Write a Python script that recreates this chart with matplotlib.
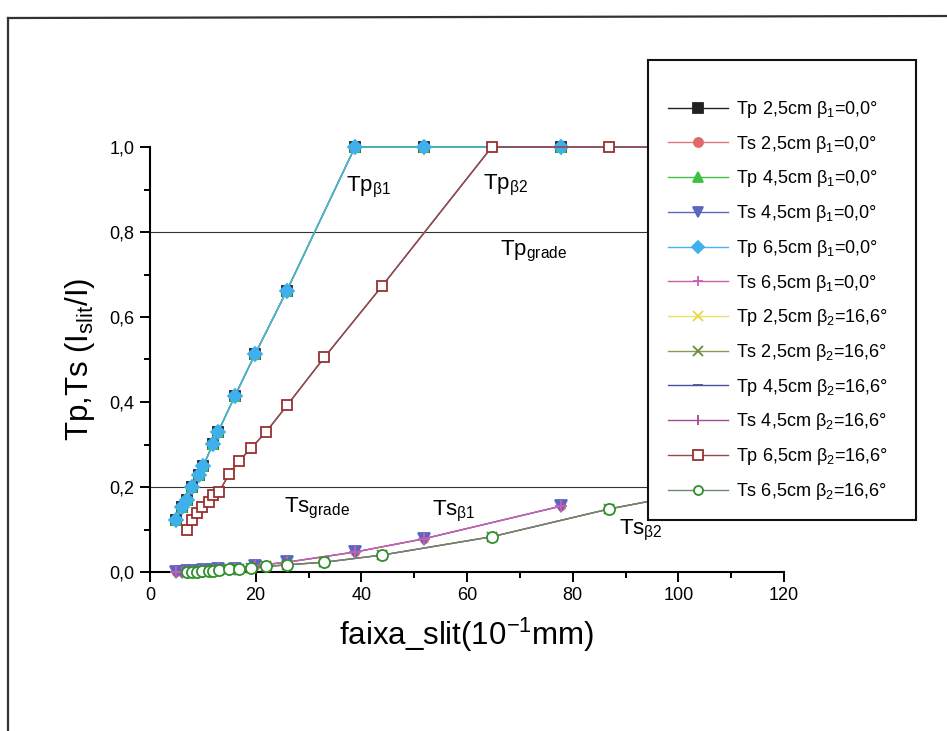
import matplotlib
matplotlib.use("Agg")
import matplotlib.pyplot as plt
from matplotlib.patches import Rectangle
from matplotlib.lines import Line2D
from matplotlib.ticker import MultipleLocator, FuncFormatter

plt.rcParams['font.family'] = ['Liberation Sans', 'DejaVu Sans']
plt.rcParams['mathtext.fontset'] = 'custom'
plt.rcParams['mathtext.rm'] = 'Liberation Sans'
plt.rcParams['mathtext.it'] = 'Liberation Sans'
plt.rcParams['mathtext.bf'] = 'Liberation Sans:bold'

# ---- data -------------------------------------------------------------
# slit widths (10^-1 mm) for the beta1 = 0.0 deg set
x_b1 = [5.0, 6.0, 7.0, 8.0, 9.2, 10.1, 11.9, 12.9, 16.1, 19.9, 25.9, 38.8, 51.8, 77.8]
tp_b1 = [0.122, 0.154, 0.170, 0.200, 0.228, 0.250, 0.301, 0.330, 0.415, 0.513, 0.662, 1.0, 1.0, 1.0]
ts_b1 = [0.0, 0.001, 0.002, 0.002, 0.003, 0.004, 0.005, 0.006, 0.008, 0.015, 0.023, 0.047, 0.078, 0.155]

# slit widths (10^-1 mm) for the beta2 = 16.6 deg set
x_b2 = [7.07, 7.9, 8.84, 9.8, 11.2, 12.0, 13.1, 15.0, 16.9, 19.1, 22.0, 26.0, 33.0, 44.0, 64.7, 86.8, 108.5]
tp_b2 = [0.100, 0.122, 0.138, 0.154, 0.165, 0.181, 0.189, 0.231, 0.262, 0.291, 0.330, 0.393,
         0.505, 0.674, 1.0, 1.0, 1.0]
ts_b2 = [0.0, 0.001, 0.001, 0.002, 0.002, 0.003, 0.004, 0.006, 0.008, 0.010, 0.013, 0.017,
         0.023, 0.040, 0.083, 0.148, 0.200]

grade_levels = [0.8, 0.2]

labels = [
    "Tp 2,5cm β$_1$=0,0°", "Ts 2,5cm β$_1$=0,0°",
    "Tp 4,5cm β$_1$=0,0°", "Ts 4,5cm β$_1$=0,0°",
    "Tp 6,5cm β$_1$=0,0°", "Ts 6,5cm β$_1$=0,0°",
    "Tp 2,5cm β$_2$=16,6°", "Ts 2,5cm β$_2$=16,6°",
    "Tp 4,5cm β$_2$=16,6°", "Ts 4,5cm β$_2$=16,6°",
    "Tp 6,5cm β$_2$=16,6°", "Ts 6,5cm β$_2$=16,6°",
]

# (x, y, line colour, marker, marker face, marker edge, marker size)
series = [
    (x_b1, tp_b1, '#222222', 's', '#222222', '#222222', 6.5),
    (x_b1, ts_b1, '#e07a7a', 'o', '#e06a6a', '#e06a6a', 5.5),
    (x_b1, tp_b1, '#40c040', '^', '#40c040', '#40c040', 6.5),
    (x_b1, ts_b1, '#5a66c0', 'v', '#5a66c0', '#5a66c0', 8),
    (x_b1, tp_b1, '#4ab4ec', 'D', '#3fb0ec', '#3fb0ec', 7.5),
    (x_b1, ts_b1, '#c860b0', '+', '#c860b0', '#c860b0', 9),
    (x_b2, tp_b2, '#e8e070', 'x', '#e8d840', '#e8d840', 6),
    (x_b2, ts_b2, '#8a9a50', 'x', '#6a8a3a', '#6a8a3a', 7),
    (x_b2, tp_b2, '#4a50a0', '_', '#4a50a0', '#4a50a0', 7),
    (x_b2, ts_b2, '#a04a90', '|', '#a04a90', '#a04a90', 6),
    (x_b2, tp_b2, '#9a4848', 's', 'white', '#9a3030', 7.5),
    (x_b2, ts_b2, '#6a8a6a', 'o', 'white', '#30902a', 8),
]

# ---- figure ------------------------------------------------------------
fig = plt.figure(figsize=(9.47, 7.31), dpi=100)
fig.patch.set_facecolor('white')
ax = fig.add_axes([150 / 947, 1 - 572 / 731, 634 / 947, 425 / 731])

for lvl in grade_levels:
    ax.axhline(lvl, color='#333333', lw=0.8, zorder=1.5)

handles = []
for (xs, ys, lc, mk, mfc, mec, ms), lab in zip(series, labels):
    h, = ax.plot(xs, ys, color=lc, lw=1.0, marker=mk, ms=ms, mfc=mfc, mec=mec,
                 mew=1.3, clip_on=False, label=lab, zorder=3)
    handles.append(h)

ax.set_xlim(0, 120)
ax.set_ylim(0, 1.0)
for side in ('top', 'right'):
    ax.spines[side].set_visible(False)
for side in ('left', 'bottom'):
    ax.spines[side].set_linewidth(1.5)

ax.xaxis.set_major_locator(MultipleLocator(20))
ax.xaxis.set_minor_locator(MultipleLocator(10))
ax.yaxis.set_major_locator(MultipleLocator(0.2))
ax.yaxis.set_minor_locator(MultipleLocator(0.1))
ax.yaxis.set_major_formatter(FuncFormatter(lambda v, p: f"{v:.1f}".replace('.', ',')))
ax.tick_params(which='major', length=7, width=1.4, labelsize=13, direction='out', pad=4)
ax.tick_params(which='minor', length=4, width=1.4, direction='out')

ax.set_xlabel("faixa_slit(10$^{-1}$mm)", fontsize=22.5, labelpad=8)
ax.set_ylabel("Tp,Ts (I$_{slit}$/I)", fontsize=22.5, labelpad=9)

# curve annotations
txt = dict(fontsize=16, ha='left', va='center', zorder=4)
ax.text(37.1, 0.905, "Tp$_{β1}$", **txt)
ax.text(63.0, 0.910, "Tp$_{β2}$", **txt)
ax.text(66.3, 0.755, "Tp$_{grade}$", **txt)
ax.text(25.4, 0.150, "Ts$_{grade}$", **txt)
ax.text(53.4, 0.142, "Ts$_{β1}$", **txt)
ax.text(88.8, 0.097, "Ts$_{β2}$", **txt)

# legend box
box = Rectangle((648 / 947, 1 - 520 / 731), 268 / 947, 460 / 731,
                transform=fig.transFigure, facecolor='white', edgecolor='#111111',
                lw=1.5, zorder=4)
fig.add_artist(box)
leg = fig.legend(handles=handles, loc='upper left',
                 bbox_to_anchor=(668 / 947, 1 - 99 / 731),
                 frameon=False, fontsize=13, handlelength=3.3, handletextpad=0.45,
                 labelspacing=0.76, borderpad=0, borderaxespad=0)
leg.set_zorder(6)
for lh in leg.legend_handles:
    lh.set_markersize(6.5)

# page border
fig.add_artist(Line2D([8 / 947, 8 / 947], [0, 1 - 18 / 731], transform=fig.transFigure,
                      color='#333333', lw=1.6))
fig.add_artist(Line2D([8 / 947, 1], [1 - 18 / 731, 1 - 16 / 731], transform=fig.transFigure,
                      color='#333333', lw=1.6))

fig.savefig("out.png", dpi=100)
